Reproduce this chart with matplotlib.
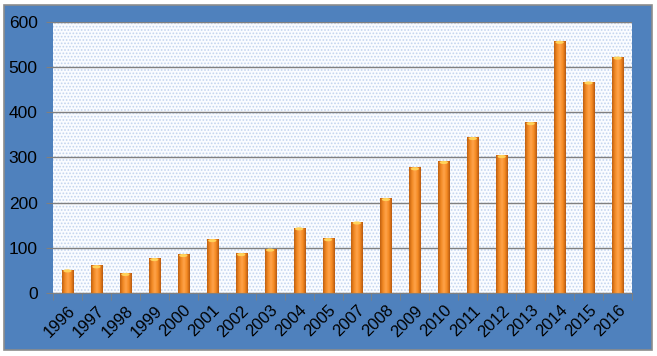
import numpy as np
import matplotlib
matplotlib.use('Agg')
import matplotlib.pyplot as plt
from matplotlib.patches import Rectangle, Ellipse

years = ['1996', '1997', '1998', '1999', '2000', '2001', '2002', '2003', '2004', '2005',
         '2007', '2008', '2009', '2010', '2011', '2012', '2013', '2014', '2015', '2016']
counts = [52, 61, 44, 77, 86, 119, 88, 98, 145, 121,
          158, 210, 278, 292, 345, 305, 378, 558, 468, 523]
yticks = [0, 100, 200, 300, 400, 500, 600]

plt.rcParams['font.family'] = ['Liberation Sans', 'DejaVu Sans']
plt.rcParams['hatch.linewidth'] = 0.8

fig = plt.figure(figsize=(6.57, 3.56), dpi=100, facecolor='white')
# blue frame of the chart
fig.patches.append(Rectangle((4/657, 6/356), 648/657, 345/356, transform=fig.transFigure,
                             facecolor='#4f81bd', edgecolor='#8c8c8c', linewidth=1.2, zorder=-10))

ax = fig.add_axes([53/657, 1-293/356, 579/657, 271/356])
ax.set_facecolor('#fafcff')
ax.add_patch(Rectangle((0, 0), 1, 1, transform=ax.transAxes, facecolor='none',
                       edgecolor='#c3d4ee', hatch='.....', linewidth=0, zorder=0))

x = np.arange(len(years))
w = 0.38
grad = np.linspace(0, 1, 64)
cmap = matplotlib.colors.LinearSegmentedColormap.from_list(
    'cyl', ['#c0600f', '#f28a25', '#ffa34a', '#f58a22', '#b85a10'])
bars = ax.bar(x, counts, width=w, color='#f58a22', edgecolor='none', zorder=2)
for b, v in zip(bars, counts):
    im = ax.imshow(grad[np.newaxis, :], cmap=cmap, aspect='auto', zorder=2,
                   extent=[b.get_x(), b.get_x() + w, 0, v])
    im.set_clip_path(b)
    ax.add_patch(Ellipse((b.get_x() + w/2, v - 3), w*0.75, 7, facecolor='#ffd25a',
                         edgecolor='none', zorder=3))

ax.set_xlim(-0.5, len(years) - 0.5)
ax.set_ylim(0, 600)
ax.set_yticks(yticks)
ax.yaxis.grid(True, color='#808080', linewidth=1)
ax.set_axisbelow(True)

ax.set_xticks(x)
ax.set_xticklabels(years, rotation=45, ha='right', rotation_mode='anchor')
ax.set_xticks(np.arange(-0.5, len(years)), minor=True)
ax.tick_params(axis='x', which='major', length=0, labelsize=12, pad=7)
ax.tick_params(axis='x', which='minor', length=5, color='#808080')
ax.tick_params(axis='y', length=5, color='#808080', labelsize=12.5, pad=6)

for s in ['top', 'right', 'left']:
    ax.spines[s].set_visible(False)
ax.spines['bottom'].set_color('#808080')

fig.savefig('out.png', dpi=100, facecolor='white')
